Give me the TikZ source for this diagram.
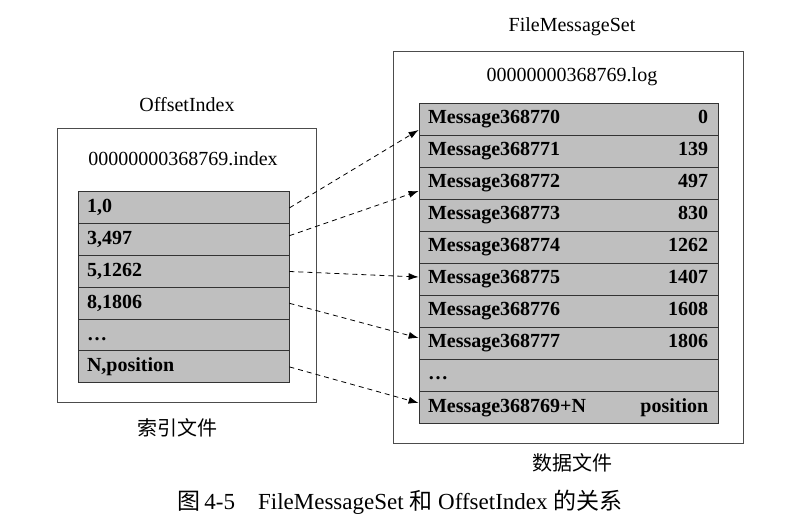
\documentclass[tikz,border=0pt]{standalone}
\usepackage{fontspec}
\setmainfont{Liberation Serif}
\newfontfamily\cjk{Noto Sans CJK SC}
\usetikzlibrary{arrows.meta, positioning}

\begin{document}
\begin{tikzpicture}[x=1pt, y=-1pt, font=\fontsize{20}{24}\selectfont]
  \tikzset{
    frame/.style = {draw=black!70, thick, minimum width=#1, inner sep=0pt},
    cell/.style = {draw=black!80, thick, fill=black!25, minimum height=32pt,
                   inner xsep=9pt, inner ysep=0pt, text width=#1, align=left,
                   text height=14pt, text depth=4pt, font=\fontsize{20}{24}\selectfont\bfseries},
    offset/.style = {anchor=base east, inner sep=0pt, font=\fontsize{20}{24}\selectfont\bfseries},
    link/.style = {thick, dash pattern=on 5pt off 4pt, -{Latex[length=10pt, width=7pt]}}
  }
  \useasboundingbox (0,0) rectangle (795,526);

  % outer frames
  \node[frame=259pt, minimum height=274pt] (idxframe) at (186.5,265) {};
  \node[frame=350pt, minimum height=392pt] (logframe) at (568,247) {};

  % titles
  \node (idxtitle) at (187,105) {OffsetIndex};
  \node (idxname)  at (183,159) {00000000368769.index};
  \node (idxcap)   at (177,428) {\cjk 索引文件};
  \node (logtitle) at (572,27)  {FileMessageSet};
  \node (logname)  at (572,77)  {00000000368769.log};
  \node (logcap)   at (572,463) {\cjk 数据文件};

  % index entries
  \foreach \txt [count=\i] in {{1,0},{3,497},{5,1262},{8,1806},{\ldots},{N,position}}
    \node[cell=193pt] (l\i) at (183.5,{192+31.8*(\i-0.5)}) {\txt};

  % log messages
  \foreach \msg/\pos [count=\i] in {Message368770/0, Message368771/139,
      Message368772/497, Message368773/830, Message368774/1262,
      Message368775/1407, Message368776/1608, Message368777/1806,
      {\ldots}/{}, Message368769+N/position}
  {
    \node[cell=281pt] (r\i) at (568.5,{103+32*(\i-0.5)}) {\msg};
    \node[offset] (p\i) at ([xshift=-10pt]r\i.base east) {\pos};
  }

  % offset links
  \draw[link] (l1.east) -- ([yshift=-11pt]r1.west);
  \draw[link] ([yshift=4pt]l2.east) -- ([yshift=-8pt]r3.west);
  \draw[link] (l3.east) -- ([yshift=2pt]r6.west);
  \draw[link] (l4.east) -- ([yshift=5pt]r8.west);
  \draw[link] (l6.east) -- ([yshift=4pt]r10.west);

  % caption
  \node[font=\fontsize{23}{28}\selectfont] (caption) at (400,502)
    {{\cjk 图}\,4-5\quad FileMessageSet {\cjk 和} OffsetIndex {\cjk 的关系}};
\end{tikzpicture}
\end{document}
